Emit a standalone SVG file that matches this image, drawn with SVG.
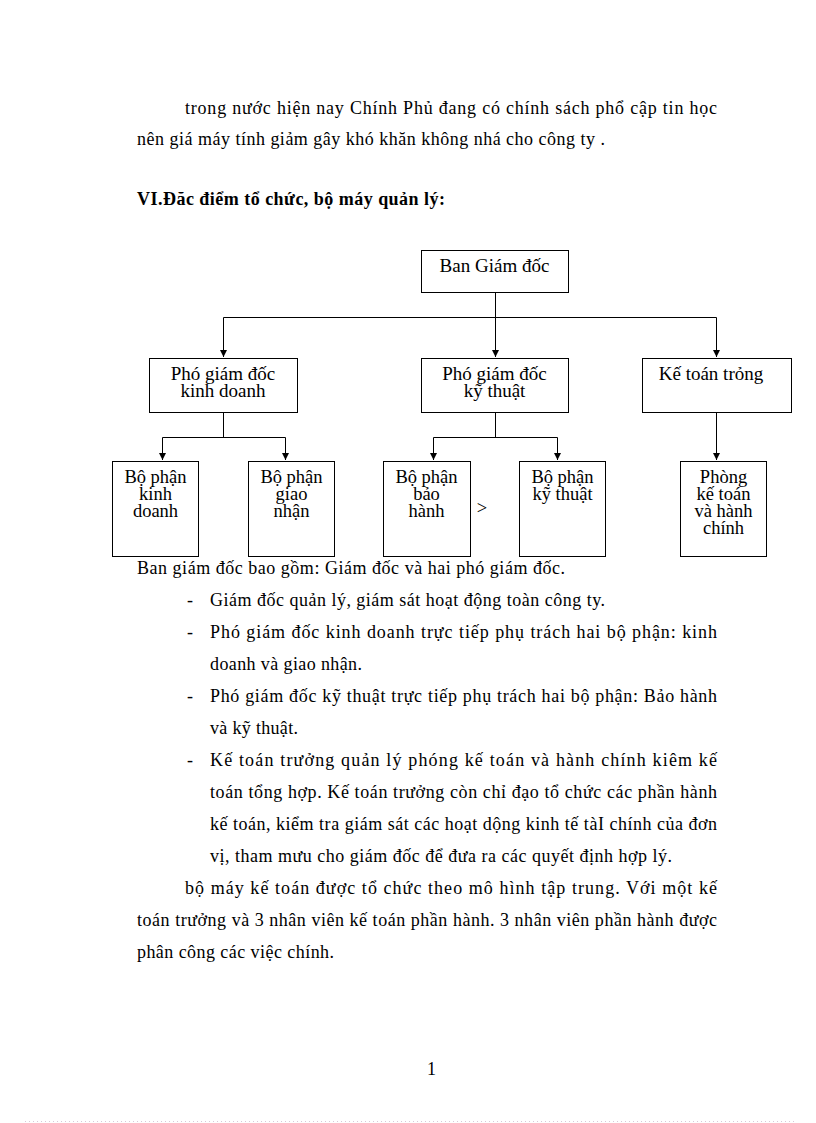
<svg xmlns="http://www.w3.org/2000/svg" width="816" height="1123" viewBox="0 0 816 1123">
<style>
text{font-family:"Liberation Serif","Times New Roman",serif;fill:#000}
.body{font-size:18px}
.b{font-weight:bold}
.box{fill:#fff;stroke:#000;stroke-width:1}
.lbl{font-size:19px;text-anchor:middle}
.sl{font-size:18.5px;text-anchor:middle}
.con{fill:none;stroke:#000;stroke-width:1}
</style>
<defs>
<marker id="ah" markerUnits="userSpaceOnUse" markerWidth="8" markerHeight="8" refX="7" refY="3.5" orient="auto">
<path d="M0,0 L7,3.5 L0,7 z" fill="#000"/>
</marker>
</defs>
<rect width="816" height="1123" fill="#fff"/>

<g id="text-top">
<text class="body" x="185" y="114" textLength="532" lengthAdjust="spacing">trong nước hiện nay Chính Phủ đang có chính sách phổ cập tin học</text>
<text class="body" x="137" y="145" textLength="468" lengthAdjust="spacing">nên giá máy tính giảm gây khó khăn không nhá cho công ty .</text>
<text class="body b" x="137" y="205" textLength="308" lengthAdjust="spacing">VI.Đăc điểm tổ chức, bộ máy quản lý:</text>
</g>

<g id="connectors">
<path class="con" d="M495.5,293 V357" marker-end="url(#ah)"/>
<path class="con" d="M223.5,317.5 H716.5"/>
<path class="con" d="M223.5,317.5 V357" marker-end="url(#ah)"/>
<path class="con" d="M716.5,317.5 V357" marker-end="url(#ah)"/>
<path class="con" d="M223.5,413 V437.5 M162.5,437.5 H285.5"/>
<path class="con" d="M162.5,437.5 V460" marker-end="url(#ah)"/>
<path class="con" d="M285.5,437.5 V460" marker-end="url(#ah)"/>
<path class="con" d="M495.5,413 V437.5 M433.5,437.5 H557.5"/>
<path class="con" d="M433.5,437.5 V460" marker-end="url(#ah)"/>
<path class="con" d="M557.5,437.5 V460" marker-end="url(#ah)"/>
<path class="con" d="M716.5,413 V460" marker-end="url(#ah)"/>
</g>

<g id="ban-giam-doc">
<rect class="box" x="421.5" y="250.5" width="147" height="42"/>
<text class="lbl" x="494.5" y="272">Ban Giám đốc</text>
</g>
<g id="pgd-kinh-doanh">
<rect class="box" x="149.5" y="358.5" width="148" height="54"/>
<text class="lbl" x="223" y="380">Phó giám đốc</text>
<text class="lbl" x="223" y="397">kinh doanh</text>
</g>
<g id="pgd-ky-thuat">
<rect class="box" x="421.5" y="358.5" width="147" height="54"/>
<text class="lbl" x="494.5" y="380">Phó giám đốc</text>
<text class="lbl" x="494.5" y="397">kỹ thuật</text>
</g>
<g id="ke-toan-truong">
<rect class="box" x="642.5" y="358.5" width="149" height="54"/>
<text class="lbl" x="711" y="380">Kế toán trỏng</text>
</g>
<g id="bp-kinh-doanh">
<rect class="box" x="112.5" y="461.5" width="86" height="95"/>
<text class="sl" x="155.5" y="483">Bộ phận</text>
<text class="sl" x="155.5" y="500">kinh</text>
<text class="sl" x="155.5" y="517">doanh</text>
</g>
<g id="bp-giao-nhan">
<rect class="box" x="248.5" y="461.5" width="86" height="95"/>
<text class="sl" x="291.5" y="483">Bộ phận</text>
<text class="sl" x="291.5" y="500">giao</text>
<text class="sl" x="291.5" y="517">nhận</text>
</g>
<g id="bp-bao-hanh">
<rect class="box" x="383.5" y="461.5" width="87" height="95"/>
<text class="sl" x="426.5" y="483">Bộ phận</text>
<text class="sl" x="426.5" y="500">bảo</text>
<text class="sl" x="426.5" y="517">hành</text>
</g>
<text class="sl" x="482" y="514">&gt;</text>
<g id="bp-ky-thuat">
<rect class="box" x="519.5" y="461.5" width="86" height="95"/>
<text class="sl" x="562.5" y="483">Bộ phận</text>
<text class="sl" x="562.5" y="500">kỹ thuật</text>
</g>
<g id="phong-ke-toan">
<rect class="box" x="680.5" y="461.5" width="86" height="95"/>
<text class="sl" x="723.5" y="483">Phòng</text>
<text class="sl" x="723.5" y="500">kế toán</text>
<text class="sl" x="723.5" y="517">và hành</text>
<text class="sl" x="723.5" y="534">chính</text>
</g>

<g id="text-body">
<text class="body" x="137" y="574" textLength="428" lengthAdjust="spacing">Ban giám đốc bao gồm: Giám đốc và hai phó giám đốc.</text>
<text class="body" x="187" y="606">-</text>
<text class="body" x="210" y="606" textLength="395" lengthAdjust="spacing">Giám đốc quản lý, giám sát hoạt động toàn công ty.</text>
<text class="body" x="187" y="638">-</text>
<text class="body" x="210" y="638" textLength="507" lengthAdjust="spacing">Phó giám đốc kinh doanh trực tiếp phụ trách hai bộ phận: kinh</text>
<text class="body" x="210" y="670" textLength="152" lengthAdjust="spacing">doanh và giao nhận.</text>
<text class="body" x="187" y="702">-</text>
<text class="body" x="210" y="702" textLength="507" lengthAdjust="spacing">Phó giám đốc kỹ thuật trực tiếp phụ trách hai bộ phận: Bảo hành</text>
<text class="body" x="210" y="734" textLength="88" lengthAdjust="spacing">và kỹ thuật.</text>
<text class="body" x="187" y="766">-</text>
<text class="body" x="210" y="766" textLength="507" lengthAdjust="spacing">Kế toán trưởng quản lý phóng kế toán và hành chính kiêm kế</text>
<text class="body" x="210" y="798" textLength="507" lengthAdjust="spacing">toán tổng hợp. Kế toán trưởng còn chỉ đạo tổ chức các phần hành</text>
<text class="body" x="210" y="830" textLength="507" lengthAdjust="spacing">kế toán, kiểm tra giám sát các hoạt dộng kinh tế tàI chính của đơn</text>
<text class="body" x="210" y="862" textLength="462" lengthAdjust="spacing">vị, tham mưu cho giám đốc để đưa ra các quyết định hợp lý.</text>
<text class="body" x="185" y="894" textLength="532" lengthAdjust="spacing">bộ máy kế toán được tổ chức theo mô hình tập trung. Với một kế</text>
<text class="body" x="137" y="926" textLength="580" lengthAdjust="spacing">toán trưởng và 3 nhân viên kế toán phần hành. 3 nhân viên phần hành được</text>
<text class="body" x="137" y="958" textLength="197" lengthAdjust="spacing">phân công các việc chính.</text>
</g>

<text class="body" x="427" y="1075">1</text>
<line x1="25" y1="1121.5" x2="795" y2="1121.5" stroke="#d8c8d8" stroke-width="1" stroke-dasharray="1,3"/>
</svg>
